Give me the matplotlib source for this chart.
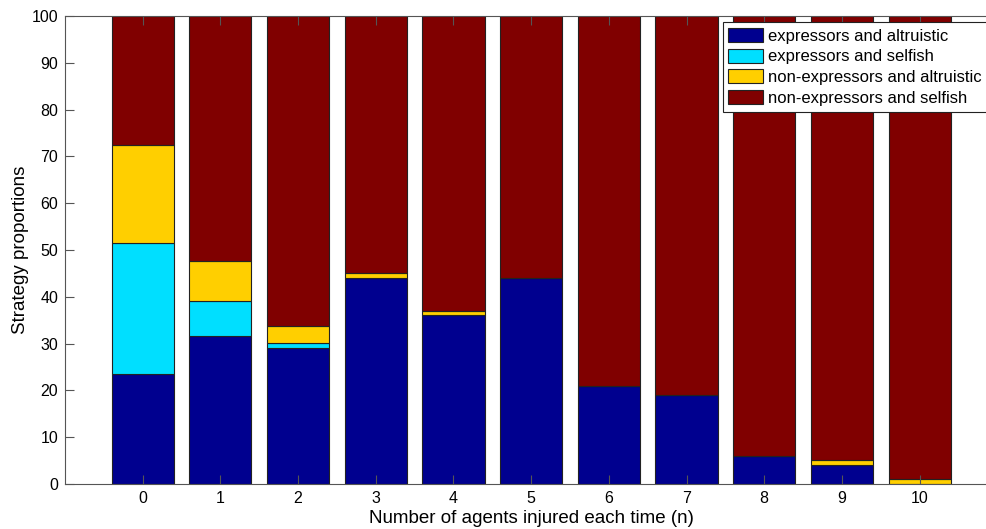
import numpy as np
import matplotlib.pyplot as plt

plt.rcParams['font.family'] = ['Liberation Sans', 'DejaVu Sans']

n_injured = np.arange(0, 11)
expr_altruistic = [23.6, 31.6, 29.0, 44.0, 36.1, 44.0, 20.9, 19.0, 6.0, 4.1, 0.0]
expr_selfish = [27.9, 7.5, 1.1, 0.0, 0.0, 0.0, 0.0, 0.0, 0.0, 0.0, 0.0]
nonexpr_altruistic = [20.9, 8.6, 3.7, 1.0, 0.9, 0.0, 0.0, 0.0, 0.0, 1.0, 1.1]
nonexpr_selfish = [100 - a - b - c for a, b, c in
                   zip(expr_altruistic, expr_selfish, nonexpr_altruistic)]

series = [expr_altruistic, expr_selfish, nonexpr_altruistic, nonexpr_selfish]
labels = ['expressors and altruistic', 'expressors and selfish',
          'non-expressors and altruistic', 'non-expressors and selfish']
colors = ['#00008f', '#00dfff', '#ffcf00', '#800000']

fig = plt.figure(figsize=(9.87, 5.29), dpi=100)
# axes run slightly past the right edge of the canvas
ax = fig.add_axes([0.0659, 0.0851, 0.9445, 0.8847])

bottom = np.zeros(len(n_injured))
for vals, lab, col in zip(series, labels, colors):
    ax.bar(n_injured, vals, width=0.8, bottom=bottom, color=col,
           edgecolor='#222222', linewidth=0.8, label=lab)
    bottom += np.array(vals)

ax.set_xlim(-1, 11)
ax.set_ylim(0, 100)
ax.set_xticks(n_injured)
ax.set_yticks(np.arange(0, 101, 10))
ax.tick_params(direction='in', length=6.5, labelsize=11.5, color='#555555',
               top=True, right=True, pad=5)
for s in ax.spines.values():
    s.set_color('#555555')

ax.set_xlabel('Number of agents injured each time (n)', fontsize=13.5, labelpad=3)
ax.set_ylabel('Strategy proportions', fontsize=13.5, labelpad=2)

leg = fig.legend(loc='upper right', bbox_to_anchor=(1.0, 0.958),
                 fontsize=12, frameon=True, fancybox=False, framealpha=1,
                 handlelength=2.1, handleheight=0.9, handletextpad=0.25,
                 borderpad=0.35, labelspacing=0.3, borderaxespad=0)
leg.get_frame().set_edgecolor('#222222')
leg.get_frame().set_linewidth(0.8)

fig.savefig('out.png', dpi=100)
